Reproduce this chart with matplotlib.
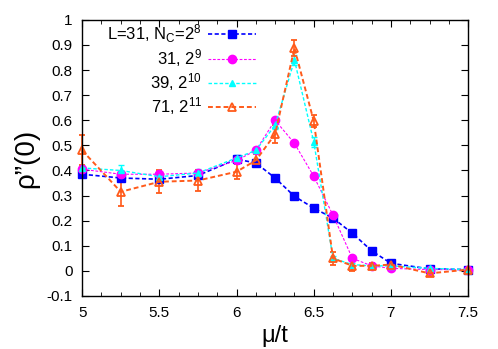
import matplotlib.pyplot as plt
from matplotlib.ticker import MultipleLocator
from matplotlib.lines import Line2D

plt.rcParams['font.family'] = ['Liberation Sans', 'DejaVu Sans']
plt.rcParams['mathtext.fontset'] = 'custom'
plt.rcParams['mathtext.rm'] = 'Liberation Sans'
plt.rcParams['mathtext.it'] = 'Liberation Sans'

mu = [5.0, 5.25, 5.5, 5.75, 6.0, 6.125, 6.25, 6.375, 6.5, 6.625, 6.75, 6.875, 7.0, 7.25, 7.5]

rho_a = [0.385, 0.37, 0.365, 0.38, 0.445, 0.43, 0.37, 0.297, 0.25, 0.21, 0.15, 0.08, 0.03, 0.008, 0.005]
err_a = [0.008, 0.008, 0.008, 0.008, 0.008, 0.006, 0.005, 0.005, 0.005, 0.005, 0.005, 0.005, 0.005, 0.004, 0.004]

rho_b = [0.405, 0.385, 0.385, 0.39, 0.44, 0.48, 0.60, 0.508, 0.377, 0.222, 0.05, 0.02, 0.01, 0.005, 0.005]
err_b = [0.008, 0.008, 0.008, 0.008, 0.008, 0.006, 0.006, 0.005, 0.005, 0.005, 0.005, 0.005, 0.004, 0.004, 0.004]

rho_c = [0.41, 0.40, 0.375, 0.39, 0.45, 0.48, 0.58, 0.84, 0.514, 0.05, 0.025, 0.02, 0.02, 0.01, 0.005]
err_c = [0.012, 0.02, 0.015, 0.015, 0.012, 0.012, 0.015, 0.02, 0.02, 0.01, 0.008, 0.006, 0.006, 0.005, 0.005]

rho_d = [0.48, 0.315, 0.355, 0.36, 0.395, 0.44, 0.545, 0.888, 0.597, 0.05, 0.02, 0.02, 0.025, -0.01, 0.005]
err_d = [0.06, 0.055, 0.045, 0.04, 0.03, 0.025, 0.035, 0.03, 0.025, 0.025, 0.02, 0.01, 0.01, 0.01, 0.01]

labels = ['L=31, N$_\\mathregular{C}$=2$^\\mathregular{8}$', '31, 2$^\\mathregular{9}$',
          '39, 2$^\\mathregular{10}$', '71, 2$^\\mathregular{11}$']

styles = [
    dict(color='#0000ff', lw=1.2, marker='s', ms=6, mfc='#0000ff', mew=1, elw=1.0),
    dict(color='#ff00ff', lw=0.8, marker='o', ms=6, mfc='#ff00ff', mew=1, elw=0.8),
    dict(color='#00ffff', lw=1.0, marker='^', ms=5, mfc='#00ffff', mew=1, elw=1.0),
    dict(color='#ff5a1a', lw=1.4, marker='^', ms=6, mfc='none', mew=1.3, elw=1.2),
]

fig = plt.figure(figsize=(4.98, 3.49), dpi=100)
ax = fig.add_axes([0.165, 0.152, 0.775, 0.791])

handles = []
for y, e, st in zip([rho_a, rho_b, rho_c, rho_d], [err_a, err_b, err_c, err_d], styles):
    cont = ax.errorbar(mu, y, yerr=e, color=st['color'], ls=(0, (2.5, 1.5)), lw=st['lw'],
                       marker=st['marker'], ms=st['ms'], mfc=st['mfc'], mew=st['mew'],
                       capsize=2, elinewidth=st['elw'])
    for art in cont.get_children():
        art.set_clip_on(False)
    handles.append(Line2D([], [], color=st['color'], ls=(0, (2.5, 1.5)), lw=st['lw'],
                          marker=st['marker'], ms=st['ms'], mfc=st['mfc'], mew=st['mew']))

ax.set_xlim(5, 7.5)
ax.set_ylim(-0.1, 1.0)
ax.xaxis.set_minor_locator(MultipleLocator(0.125))
ax.set_xticks([5, 5.5, 6, 6.5, 7, 7.5])
ax.set_xticklabels(['5', '5.5', '6', '6.5', '7', '7.5'])
ax.set_yticks([-0.1, 0, 0.1, 0.2, 0.3, 0.4, 0.5, 0.6, 0.7, 0.8, 0.9, 1.0])
ax.set_yticklabels(['-0.1', '0', '0.1', '0.2', '0.3', '0.4', '0.5', '0.6', '0.7', '0.8', '0.9', '1'])
ax.tick_params(which='both', direction='in', top=True, right=True, labelsize=11)
ax.tick_params(which='major', length=5, pad=7)
ax.tick_params(which='minor', length=3)
for s in ax.spines.values():
    s.set_linewidth(1.0)

ax.set_xlabel('\u03bc/t', fontsize=17, labelpad=4)
ax.set_ylabel('\u03c1\u201d(0)', fontsize=20, labelpad=5)

leg = ax.legend(handles, labels, loc='upper left', bbox_to_anchor=(0.065, 0.99),
                frameon=False, fontsize=12, markerfirst=False, handlelength=2.9,
                handletextpad=0.35, labelspacing=0.12, borderaxespad=0, borderpad=0)
for t in leg.get_texts():
    t.set_ha('right')
leg._legend_box.align = 'right'

fig.savefig('out.png', dpi=100)
